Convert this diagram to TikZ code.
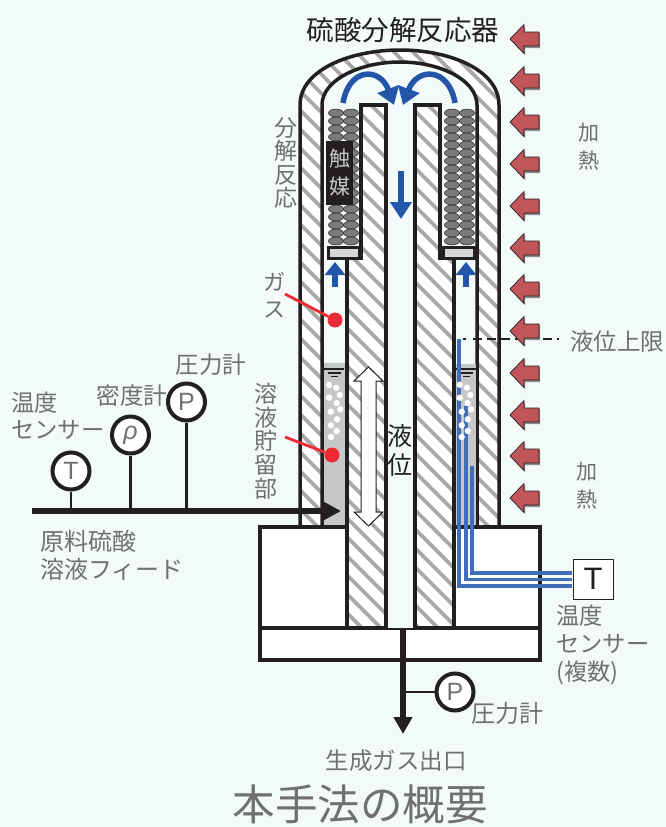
\documentclass[tikz,border=0pt]{standalone}
\usepackage{fontspec}
\usepackage{tikz}
\usetikzlibrary{arrows.meta}
\newfontfamily\jp{Noto Sans CJK JP}
\newfontfamily\gaugefont{Liberation Sans}
\definecolor{paper}{HTML}{F3FAFA}
\definecolor{ink}{HTML}{231F20}
\definecolor{label}{HTML}{707070}
\definecolor{flow}{HTML}{2356A8}
\definecolor{wire}{HTML}{3F6FB8}
\definecolor{heat}{HTML}{C0565A}
\definecolor{liquid}{HTML}{C6C7C8}
\definecolor{hatch}{HTML}{A8A8A8}
\definecolor{bead}{HTML}{7A7A7A}
\definecolor{hotred}{HTML}{EE2A35}
\tikzset{
  txt/.style = {text=label, inner sep=0pt, align=center},
  wall/.style = {draw=ink, line width=3.5pt, miter limit=10},
  hatchline/.style = {draw=hatch, line width=3.8pt},
  gauge/.style = {draw=ink, circle, fill=white, line width=4pt, minimum size=37pt, inner sep=0pt, text=label, font=\gaugefont\fontsize{25}{25}\selectfont},
  stem/.style = {draw=ink, line width=2.6pt},
  main/.style = {draw=ink, line width=6pt, -{Triangle[length=18pt,width=18pt]}},
  swirl/.style = {draw=flow, line width=5.5pt, -{Triangle[length=17pt,width=22pt]}},
  updraft/.style = {draw=flow, line width=5.5pt, -{Triangle[length=13pt,width=20pt]}},
  probe/.style = {draw=wire, line width=3.8pt},
  leader/.style = {draw=hotred, line width=2.8pt},
  reddot/.style = {circle, fill=hotred, minimum size=15pt, inner sep=0pt},
  beadball/.style = {draw=ink, fill=bead, line width=0.5pt},
}
\newcommand{\hatchfield}{\foreach \i in {-836,-817,...,680} \draw[hatchline] (\i,0) -- ({\i+827},827);}
\begin{document}
\begin{tikzpicture}[x=1pt,y=-1pt]
  \useasboundingbox (0,0) rectangle (666,827);
  \fill[paper] (0,0) rectangle (666,827);

  % outer shell with hatching
  \fill[white] (300,527) -- (300,105) .. controls (300,70) and (350,50) .. (400,50) .. controls (450,50) and (499,70) .. (499,105) -- (499,527) -- cycle;
  \begin{scope}
    \clip (300,527) -- (300,105) .. controls (300,70) and (350,50) .. (400,50) .. controls (450,50) and (499,70) .. (499,105) -- (499,527) -- cycle;
    \hatchfield
  \end{scope}
  \fill[paper] (322,527) -- (322,105) .. controls (322,80) and (360,62) .. (400,62) .. controls (440,62) and (477,80) .. (477,105) -- (477,527) -- cycle;
  \draw[wall] (300,527) -- (300,105) .. controls (300,70) and (350,50) .. (400,50) .. controls (450,50) and (499,70) .. (499,105) -- (499,527);
  \draw[wall] (322,527) -- (322,105) .. controls (322,80) and (360,62) .. (400,62) .. controls (440,62) and (477,80) .. (477,105) -- (477,527);

  % liquid
  \fill[liquid] (324,363) rectangle (346,527);
  \fill[liquid] (456,364) rectangle (476,527);
  \foreach \cx in {334,466} {
    \draw[ink, line width=1.3pt] (\cx-10,369) -- (\cx+10,369);
    \draw[ink, line width=1.3pt] (\cx-6.5,373) -- (\cx+6.5,373);
    \draw[ink, line width=1.3pt] (\cx-3.5,376.5) -- (\cx+3.5,376.5);
  }

  % base blocks
  \draw[wall, fill=white] (260,527) rectangle (540,628);
  \draw[wall, fill=white] (260,628) rectangle (540,660);

  % inner tubes
  \fill[white] (361,105) -- (386,105) -- (386,628) -- (347,628) -- (347,258) -- (361,258) -- cycle;
  \fill[white] (415,105) -- (440,105) -- (440,258) -- (454,258) -- (454,628) -- (415,628) -- cycle;
  \begin{scope}
    \clip (361,105) -- (386,105) -- (386,628) -- (347,628) -- (347,258) -- (361,258) -- cycle
          (415,105) -- (440,105) -- (440,258) -- (454,258) -- (454,628) -- (415,628) -- cycle;
    \hatchfield
  \end{scope}
  \fill[paper] (388,105) rectangle (413,628);
  \draw[wall] (361,105) -- (386,105) -- (386,628) -- (347,628) -- (347,258) -- (361,258) -- cycle;
  \draw[wall] (415,105) -- (440,105) -- (440,258) -- (454,258) -- (454,628) -- (415,628) -- cycle;

  % catalyst beads
  \foreach \cx in {336,351,452,467}
    \foreach \r in {0,...,16}
      \path[beadball] (\cx,{113+8*\r}) ellipse [x radius=7.5pt, y radius=4pt];
  \draw[ink, fill=liquid!70!white, line width=3pt] (328,247) rectangle (359,258);
  \draw[ink, fill=liquid!70!white, line width=3pt] (443,247) rectangle (474,258);
  \node[fill=ink, minimum width=27pt, minimum height=64pt, inner sep=0pt, text=liquid, align=center, font=\jp\fontsize{21}{28}\selectfont] (catalyst) at (339.5,173) {触\\媒};

  % flow arrows
  \draw[swirl] (343,103) .. controls (349,67) and (380,67) .. (394,105);
  \draw[swirl] (455,103) .. controls (449,67) and (417,67) .. (403,105);
  \coordinate (downa) at (401,171);
  \coordinate (downb) at (401,219);
  \draw[draw=flow, line width=6pt, -{Triangle[length=17pt,width=21pt]}] (downa) -- (downb);
  \coordinate (upla) at (335,287);
  \coordinate (uplb) at (335,262);
  \coordinate (upra) at (466,287);
  \coordinate (uprb) at (466,262);
  \draw[updraft] (upla) -- (uplb);
  \draw[updraft] (upra) -- (uprb);

  % level arrow
  \draw[ink, fill=white, line width=1pt] (368.5,367) -- (383,381) -- (376,381) -- (376,512) -- (383,512) -- (368.5,526) -- (354,512) -- (361,512) -- (361,381) -- (354,381) -- cycle;

  % temperature probes
  \node[draw=ink, fill=white, line width=1pt, minimum size=40pt, inner sep=0pt, text=ink, font=\gaugefont\fontsize{31}{31}\selectfont] (tbox) at (593,579) {T};
  \draw[probe] (459,339) -- (459,586) -- (571.5,586);
  \draw[probe] (466,406) -- (466,579.5) -- (571.5,579.5);
  \draw[probe] (472,466) -- (472,573) -- (571.5,573);
  \foreach \bx/\by in {329/385,336.3/387.7,339.7/395,329/397.7,336.7/403,340.3/409.3,330.7/411.7,337/419.3,331/425.3,336.7/431,331/437}
    \fill[white] (\bx,\by) circle (3.2pt);
  \foreach \bx/\by in {459.7/384.7,467/387.7,470.3/395,459.7/397.7,467.7/403,471/409.3,461.7/411.7,467.7/419.3,461.7/425.3,467.7/431,461.7/437}
    \fill[white] (\bx,\by) circle (3.2pt);

  % upper limit line
  \coordinate (lima) at (463,339);
  \coordinate (limb) at (564,339);
  \draw[ink, line width=2.4pt, dash pattern=on 2.5pt off 7pt on 9pt off 5pt on 9pt off 5pt on 9pt off 5pt on 9pt off 5pt on 9pt off 5pt on 9pt off 5pt] (lima) -- (limb);

  % heating arrows
  \foreach \hy in {39,81,122,164,206,248,289,331,373,415,456,498} {
    \fill[black!45] (511,\hy+1) -- (525,\hy-13) -- (525,\hy-6) -- (540,\hy-6) -- (540,\hy+9) -- (525,\hy+9) -- (525,\hy+16) -- cycle;
    \draw[ink, fill=heat, line width=0.7pt] (510,\hy) -- (524,\hy-14.5) -- (524,\hy-7) -- (539,\hy-7) -- (539,\hy+7) -- (524,\hy+7) -- (524,\hy+14.5) -- cycle;
  }

  % feed line and gauges
  \coordinate (feedin) at (32,511);
  \coordinate (feedout) at (341,511);
  \node[gauge] (tgauge) at (71,471) {T};
  \node[gauge] (rhogauge) at (130.5,435) {\itshape ρ};
  \node[gauge] (pgauge) at (186.5,402) {P};
  \coordinate (tfoot) at (71,511);
  \coordinate (rhofoot) at (130.5,511);
  \coordinate (pfoot) at (186.5,511);
  \draw[stem] (tgauge) -- (tfoot);
  \draw[stem] (rhogauge) -- (rhofoot);
  \draw[stem] (pgauge) -- (pfoot);
  \draw[main] (feedin) -- (feedout);

  % outlet
  \coordinate (outa) at (403,628);
  \coordinate (outb) at (403,734);
  \coordinate (outtap) at (403,692);
  \node[gauge] (pout) at (455,692) {P};
  \draw[stem] (outtap) -- (pout);
  \draw[draw=ink, line width=5.5pt, -{Triangle[length=17pt,width=18pt]}] (outa) -- (outb);

  % red markers
  \node[reddot] (gasdot) at (335,320) {};
  \node[reddot] (liqdot) at (332,455) {};
  \coordinate (gasend) at (285,294);
  \coordinate (liqend) at (285,437);
  \draw[leader] (gasend) -- (gasdot);
  \draw[leader] (liqend) -- (liqdot);

  % labels
  \node[txt, text=ink, font=\jp\fontsize{27.5}{27.5}\selectfont] (title) at (403,30) {硫酸分解反応器};
  \node[txt, font=\jp\fontsize{23}{23.6}\selectfont] (reactlabel) at (286,163) {分\\解\\反\\応};
  \node[txt, font=\jp\fontsize{22}{27}\selectfont] (gaslabel) at (274,295) {ガ\\ス};
  \node[txt, font=\jp\fontsize{23}{23.7}\selectfont] (poollabel) at (266,441) {溶\\液\\貯\\留\\部};
  \node[txt, font=\jp\fontsize{21}{28}\selectfont] (heata) at (589,147) {加\\熱};
  \node[txt, font=\jp\fontsize{21}{28}\selectfont] (heatb) at (587,486) {加\\熱};
  \node[txt, text=ink, font=\jp\fontsize{25}{29}\selectfont] (levellabel) at (400,450) {液\\位};
  \node[txt, font=\jp\fontsize{23.5}{23.5}\selectfont, anchor=west] (limitlabel) at (570,342) {液位上限};
  \node[txt, font=\jp\fontsize{23.5}{23.5}\selectfont] (plabel) at (211,365) {圧力計};
  \node[txt, font=\jp\fontsize{23.5}{23.5}\selectfont] (rholabel) at (132,396) {密度計};
  \node[txt, align=left, anchor=north west, font=\jp\fontsize{23.3}{27}\selectfont] (tlabel) at (11,392) {温度\\センサー};
  \node[txt, align=left, anchor=north west, font=\jp\fontsize{24}{28}\selectfont] (feedlabel) at (40,530) {原料硫酸\\溶液フィード};
  \node[txt, font=\jp\fontsize{24}{24}\selectfont] (poutlabel) at (507,713) {圧力計};
  \node[txt, align=left, anchor=north west, font=\jp\fontsize{23.3}{28}\selectfont] (tboxlabel) at (556,605) {温度\\センサー\\(複数)};
  \node[txt, font=\jp\fontsize{23.5}{23.5}\selectfont] (gasout) at (396,761) {生成ガス出口};
  \node[txt, font=\jp\fontsize{42.5}{42.5}\selectfont] (caption) at (360,804) {本手法の概要};
\end{tikzpicture}
\end{document}
